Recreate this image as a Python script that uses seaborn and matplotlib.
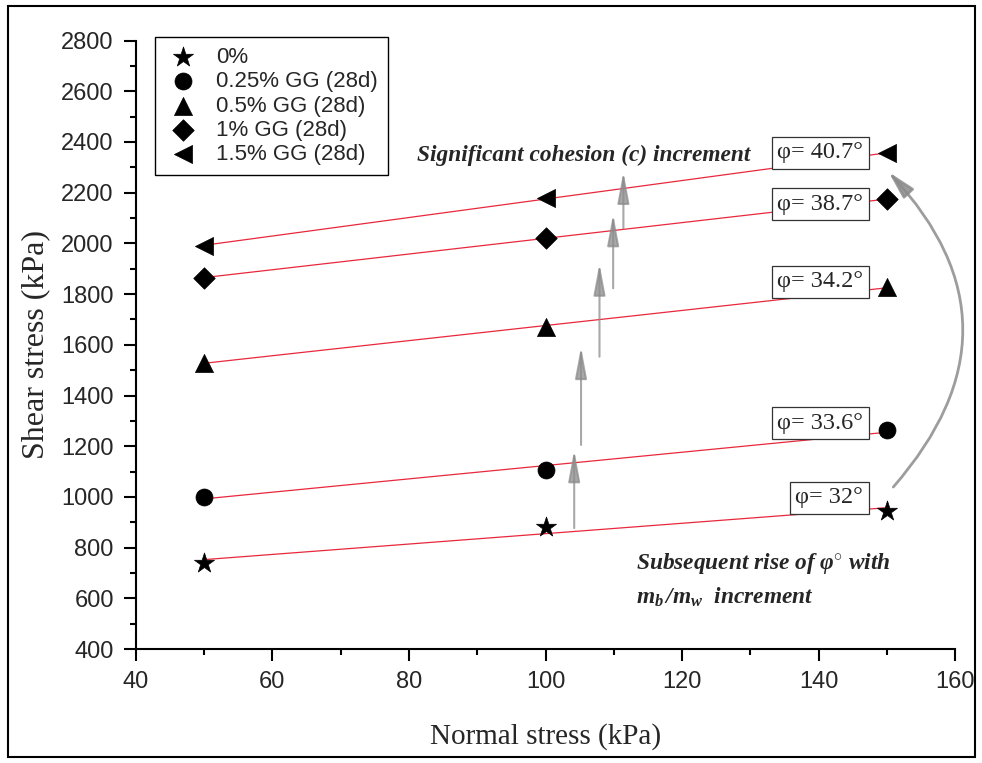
import numpy as np
import pandas as pd
import seaborn as sns
import matplotlib
matplotlib.use("Agg")
import matplotlib.pyplot as plt
from matplotlib.patches import Rectangle, ArrowStyle
from matplotlib.ticker import MultipleLocator

# ---------------- data ----------------
normal_stress = [50, 100, 150]
series_labels = ["0%", "0.25% GG (28d)", "0.5% GG (28d)", "1% GG (28d)", "1.5% GG (28d)"]
shear_0 = [740, 880, 945]
shear_025 = [1000, 1108, 1263]
shear_05 = [1530, 1670, 1828]
shear_1 = [1865, 2020, 2175]
shear_15 = [1990, 2180, 2355]
phi_labels = ["φ= 32°", "φ= 33.6°", "φ= 34.2°", "φ= 38.7°", "φ= 40.7°"]
x_ticks = [40, 60, 80, 100, 120, 140, 160]
y_ticks = [400, 600, 800, 1000, 1200, 1400, 1600, 1800, 2000, 2200, 2400, 2600, 2800]

# annotation anchors
phi_label_y = [996, 1291, 1848, 2155, 2357]
cohesion_arrows = [(104.2, 877, 1185), (105.2, 1205, 1592), (107.9, 1553, 1921),
                   (109.9, 1823, 2116), (111.4, 2060, 2283)]

series = [shear_0, shear_025, shear_05, shear_1, shear_15]
markers = ["*", "o", "^", "D", "<"]
msizes = [230, 150, 170, 120, 170]

frames = []
for lab, vals in zip(series_labels, series):
    frames.append(pd.DataFrame({"Normal stress": normal_stress, "Shear stress": vals, "mix": lab}))
df = pd.concat(frames, ignore_index=True)

sns.set_style("ticks")
plt.rcParams["font.family"] = ["Liberation Sans", "DejaVu Sans"]
plt.rcParams["mathtext.fontset"] = "custom"
plt.rcParams["mathtext.it"] = "Liberation Serif:italic:bold"
plt.rcParams["mathtext.rm"] = "Liberation Serif:italic:bold"
plt.rcParams["mathtext.bf"] = "Liberation Serif:italic:bold"

fig = plt.figure(figsize=(9.82, 7.63), dpi=100)
ax = fig.add_axes([0.138, 0.1494, 0.835, 0.7974])

# regression lines
for lab in series_labels:
    sub = df[df["mix"] == lab]
    sns.regplot(data=sub, x="Normal stress", y="Shear stress", ax=ax, ci=None,
                scatter=False, truncate=True,
                line_kws=dict(color="#e8283c", lw=0.9, zorder=2))

# markers
for lab, m, s in zip(series_labels, markers, msizes):
    sub = df[df["mix"] == lab]
    sns.scatterplot(data=sub, x="Normal stress", y="Shear stress", ax=ax,
                    marker=m, s=s, color="black", edgecolor="black", linewidth=0.5,
                    label=lab, zorder=5)

ax.set_xlim(40, 160)
ax.set_ylim(400, 2800)
ax.set_xticks(x_ticks)
ax.set_yticks(y_ticks)
ax.xaxis.set_minor_locator(MultipleLocator(10))
ax.yaxis.set_minor_locator(MultipleLocator(100))
ax.tick_params(axis="both", which="major", direction="out", length=8.6, width=1.5,
               labelsize=17, pad=7, color="black")
ax.tick_params(axis="both", which="minor", direction="out", length=4.3, width=1.5, color="black")
for sp in ["top", "right"]:
    ax.spines[sp].set_visible(False)
for sp in ["left", "bottom"]:
    ax.spines[sp].set_linewidth(1.5)
    ax.spines[sp].set_color("black")

ax.set_xlabel("Normal stress (kPa)", family="Liberation Serif", fontsize=21, labelpad=22)
ax.set_ylabel("Shear stress (kPa)", family="Liberation Serif", fontsize=23, labelpad=8)

# legend
leg = ax.legend(loc="upper left", bbox_to_anchor=(0.0237, 1.006), borderaxespad=0,
                frameon=True, fancybox=False, edgecolor="black", fontsize=16,
                labelspacing=0.15, borderpad=0.45, handlelength=1.6, handletextpad=0.7,
                framealpha=1)
leg.get_frame().set_linewidth(1.0)

# phi labels
for txt, yv in zip(phi_labels, phi_label_y):
    ax.text(146.5, yv, txt, family="Liberation Serif", fontsize=17.5, ha="right", va="center",
            zorder=4,
            bbox=dict(boxstyle="square,pad=0.22", fc="white", ec="#333333", lw=0.9))

# cohesion arrows
for xv, y0, y1 in cohesion_arrows:
    ax.annotate("", xy=(xv, y1), xytext=(xv, y0),
                arrowprops=dict(arrowstyle=ArrowStyle("-|>", head_length=1.6, head_width=0.3),
                                mutation_scale=12, color="#8c8c8c", alpha=0.75, lw=1.5,
                                shrinkA=0, shrinkB=0), zorder=3)

# curved arrow
ax.annotate("", xy=(150.2, 2282), xytext=(150.9, 1039),
            arrowprops=dict(arrowstyle=ArrowStyle("-|>", head_length=1.4, head_width=0.35),
                            mutation_scale=12, connectionstyle="arc3,rad=0.45",
                            color="#8c8c8c", alpha=0.85, lw=2, shrinkA=0, shrinkB=0),
            annotation_clip=False, zorder=3)

# text annotations
ax.text(81.2, 2349, "Significant cohesion (c) increment", family="Liberation Serif",
        style="italic", weight="bold", fontsize=16.8, ha="left", va="center")
ax.text(113.3, 739, r"Subsequent rise of φ$^{\circ}$ with", family="Liberation Serif",
        style="italic", weight="bold", fontsize=16.8, ha="left", va="center")
ax.text(113.3, 605, r"$m_b\,/m_w$  increment", family="Liberation Serif",
        style="italic", weight="bold", fontsize=16.8, ha="left", va="center")

# outer border
fig.add_artist(Rectangle((8 / 982, 6 / 763), (975 - 8) / 982, (757 - 6) / 763,
                         transform=fig.transFigure, fill=False, lw=1.5, ec="black"))

fig.savefig("out.png", dpi=100)
